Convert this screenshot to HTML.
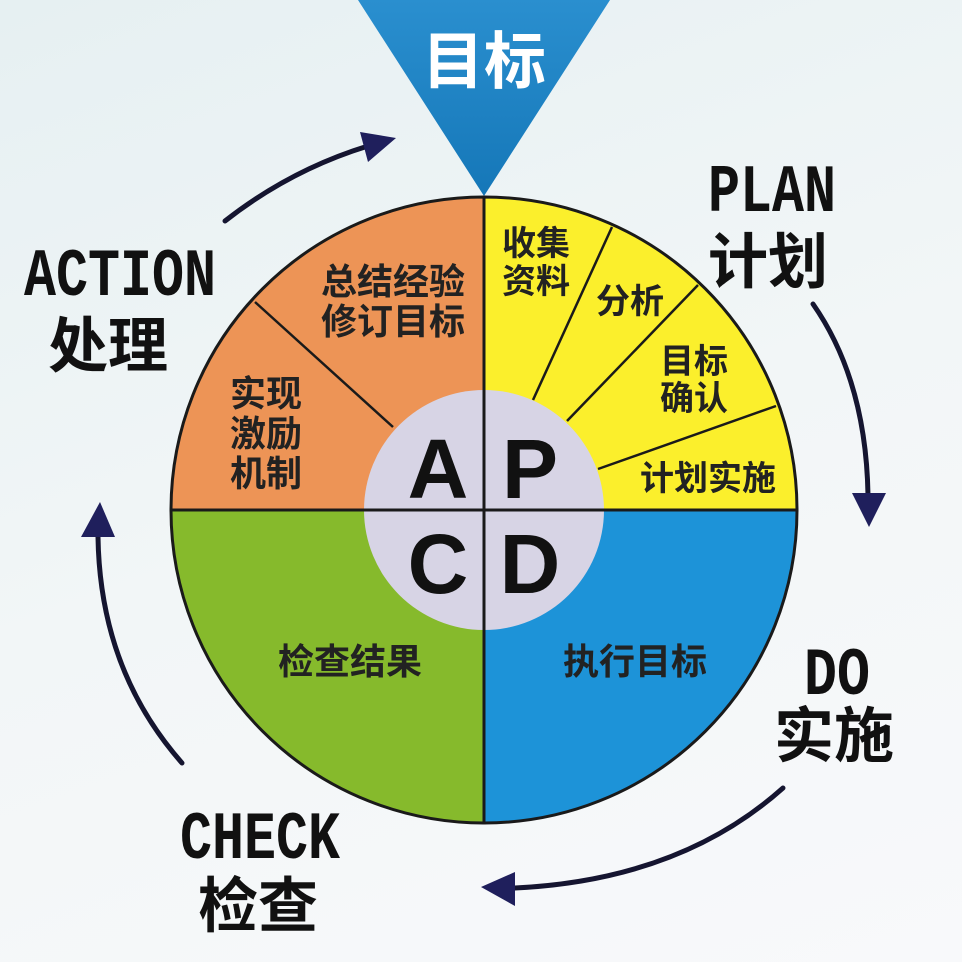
<!DOCTYPE html>
<html><head><meta charset="utf-8"><style>
html,body{margin:0;padding:0;}
body{width:962px;height:962px;overflow:hidden;background:linear-gradient(160deg,#e6f0f2 0%,#f2f6f7 50%,#f8f9fb 100%);}
svg{display:block}
.cj{font-family:"Liberation Sans","Noto Sans CJK SC",sans-serif;font-weight:bold;}
.en{font-family:"Liberation Mono",monospace;font-weight:bold;}
</style></head><body>
<svg width="962" height="962" viewBox="0 0 962 962">
<defs>
<linearGradient id="tg" x1="0" y1="0" x2="0" y2="1"><stop offset="0" stop-color="#2a8fcf"/><stop offset="1" stop-color="#1577b8"/></linearGradient>
</defs>
<!-- triangle -->
<polygon points="358,0 610,0 484,196" fill="url(#tg)"/>
<text x="484" y="83" text-anchor="middle" class="cj" font-size="62" fill="#fff">目标</text>
<!-- quadrants -->
<g stroke="#1a1a1a" stroke-width="3">
<path d="M484,510 L484,197 A313,313 0 0 0 171,510 Z" fill="#ed9456"/>
<path d="M484,510 L484,197 A313,313 0 0 1 797,510 Z" fill="#fbef2c"/>
<path d="M484,510 L797,510 A313,313 0 0 1 484,823 Z" fill="#1d93d8"/>
<path d="M484,510 L484,823 A313,313 0 0 1 171,510 Z" fill="#86ba2c"/>
<line x1="533" y1="400" x2="612" y2="227" stroke-width="2.5"/>
<line x1="567" y1="421" x2="698" y2="285" stroke-width="2.5"/>
<line x1="598" y1="469" x2="776" y2="406" stroke-width="2.5"/>
<line x1="255" y1="302" x2="393" y2="427" stroke-width="2.5"/>
</g>
<circle cx="484" cy="510" r="120" fill="#d7d4e5"/>
<line x1="484" y1="390" x2="484" y2="630" stroke="#1a1a1a" stroke-width="3"/>
<line x1="364" y1="510" x2="604" y2="510" stroke="#1a1a1a" stroke-width="3"/>
<g font-family="Liberation Sans,sans-serif" font-weight="bold" font-size="84" fill="#111" text-anchor="middle">
<text x="438" y="498">A</text><text x="530" y="498">P</text>
<text x="438" y="593">C</text><text x="530" y="593">D</text>
</g>
<!-- quadrant text -->
<g class="cj" fill="#222" text-anchor="middle" font-size="36">
<text x="393" y="294">总结经验</text>
<text x="393" y="334">修订目标</text>
<text x="266" y="406">实现</text>
<text x="266" y="446">激励</text>
<text x="266" y="486">机制</text>
<text x="536" y="255" font-size="34">收集</text>
<text x="536" y="293" font-size="34">资料</text>
<text x="630" y="313" font-size="34">分析</text>
<text x="694" y="373" font-size="34">目标</text>
<text x="694" y="410" font-size="34">确认</text>
<text x="708" y="490" font-size="34">计划实施</text>
<text x="350" y="674">检查结果</text>
<text x="635" y="674">执行目标</text>
</g>
<!-- outer labels -->
<g fill="#111">
<text x="708" y="211" class="en" font-size="68" textLength="128" lengthAdjust="spacingAndGlyphs">PLAN</text>
<text x="708" y="283" class="cj" font-size="60">计划</text>
<text x="24" y="295" class="en" font-size="68" textLength="192" lengthAdjust="spacingAndGlyphs">ACTION</text>
<text x="48" y="367" class="cj" font-size="60">处理</text>
<text x="804" y="694" class="en" font-size="68" textLength="66" lengthAdjust="spacingAndGlyphs">DO</text>
<text x="774" y="757" class="cj" font-size="60">实施</text>
<text x="180" y="858" class="en" font-size="68" textLength="160" lengthAdjust="spacingAndGlyphs">CHECK</text>
<text x="198" y="927" class="cj" font-size="60">检查</text>
</g>
<!-- arrows -->
<g fill="none" stroke="#151530" stroke-width="5" stroke-linecap="round">
<path d="M225,221 Q290,170 368,146"/>
<path d="M813,304 Q866,380 868,495"/>
<path d="M783,788 Q680,880 515,888"/>
<path d="M182,763 Q100,670 98,537"/>
</g>
<g fill="#1f1f5c">
<polygon points="396,138 360,132 368,162"/>
<polygon points="869,527 852,493 886,493"/>
<polygon points="481,887 515,872 515,906"/>
<polygon points="100,502 81,537 115,537"/>
</g>
</svg>
</body></html>
